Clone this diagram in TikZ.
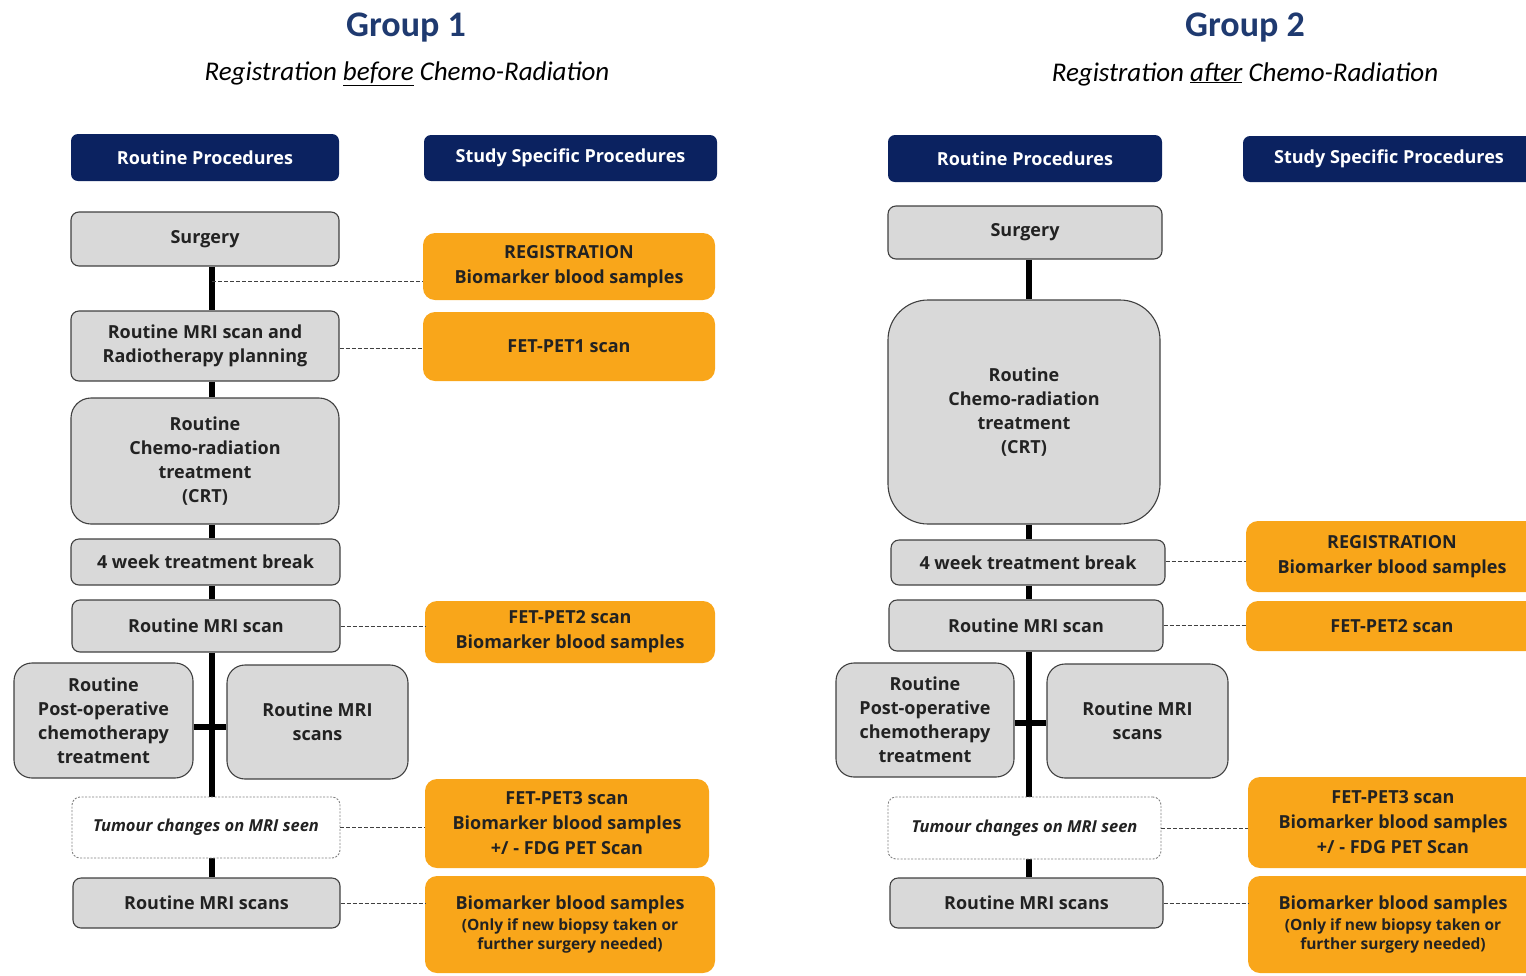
\documentclass[tikz,border=0pt]{standalone}
\usepackage{fontspec}
\setmainfont{Open Sans}
\newfontfamily\calib{Carlito}
\usetikzlibrary{backgrounds}
\definecolor{navy}{HTML}{0B2260}
\definecolor{titleblue}{HTML}{1F3A70}
\definecolor{boxgrey}{HTML}{D9D9D9}
\definecolor{edgegrey}{HTML}{404040}
\definecolor{orng}{HTML}{F9A61A}
\definecolor{txt}{HTML}{222222}
\newcommand\notefont{\bfseries\fontsize{15.5}{19}\selectfont}
\begin{document}
\begin{tikzpicture}[x=1pt,y=-1pt,
  hdr/.style={fill=navy, rounded corners=7pt, text=white, font=\bfseries\fontsize{18}{20}\selectfont, inner sep=0pt},
  gbox/.style={fill=boxgrey, draw=edgegrey, line width=1.1pt, rounded corners=8pt, align=center, text=txt, font=\bfseries\fontsize{18}{24}\selectfont, inner sep=0pt},
  obox/.style={fill=orng, rounded corners=12pt, align=center, text=txt, font=\bfseries\fontsize{18}{25}\selectfont, inner sep=0pt},
  tbox/.style={fill=white, draw=gray, dash pattern=on 2pt off 1.5pt, line width=0.9pt, rounded corners=8pt, align=center, text=txt, font=\bfseries\itshape\fontsize{16.5}{18}\selectfont, inner sep=0pt},
  spine/.style={line width=6pt, black},
  link/.style={draw=edgegrey, dash pattern=on 4pt off 2pt, line width=0.9pt},
  title/.style={text=titleblue, font=\calib\bfseries\fontsize{36}{40}\selectfont},
  sub/.style={text=black, font=\calib\itshape\fontsize{27}{30}\selectfont}
]
\useasboundingbox (0,0) rectangle (1526,975);
\clip (0,0) rectangle (1526,975);

% ---------------- Group 1 ----------------
\node[title] (t1) at (406,28) {Group 1};
\node[sub] (st1) at (407,74) {Registration \underline{before} Chemo-Radiation};
\node[hdr, minimum width=268pt, minimum height=47pt] (h1a) at (205,157.5) {Routine Procedures};
\node[hdr, minimum width=293pt, minimum height=46pt] (h1b) at (570.5,158) {Study Specific Procedures};

\node[gbox, minimum width=268pt, minimum height=54pt] (a1) at (205,239) {Surgery};
\node[obox, minimum width=292pt, minimum height=67pt] (r1) at (569,266.5) {REGISTRATION\\Biomarker blood samples};
\node[gbox, minimum width=268pt, minimum height=70pt] (a2) at (205,346) {Routine MRI scan and\\Radiotherapy planning};
\node[obox, minimum width=292pt, minimum height=69pt] (p1) at (569,346.5) {FET-PET1 scan};
\node[gbox, rounded corners=20pt, minimum width=268pt, minimum height=126pt] (a3) at (205,461) {Routine\\Chemo-radiation\\treatment\\(CRT)};
\node[gbox, minimum width=269pt, minimum height=46pt] (a4) at (205.5,562) {4 week treatment break};
\node[gbox, minimum width=268pt, minimum height=52pt] (a5) at (206,626) {Routine MRI scan};
\node[obox, minimum width=290pt, minimum height=62pt] (p2) at (570,632) {FET-PET2 scan\\Biomarker blood samples};
\node[gbox, rounded corners=18pt, minimum width=179pt, minimum height=115pt] (b1) at (103.5,720.5) {Routine\\Post-operative\\chemotherapy\\treatment};
\node[gbox, rounded corners=18pt, minimum width=181pt, minimum height=114pt] (b2) at (317.5,722) {Routine MRI\\scans};
\node[tbox, minimum width=268pt, minimum height=61pt] (a6) at (206,827.5) {Tumour changes on MRI seen};
\node[obox, minimum width=284pt, minimum height=89pt] (p3) at (567,823.5) {FET-PET3 scan\\Biomarker blood samples\\+/ - FDG PET Scan};
\node[gbox, minimum width=267pt, minimum height=50pt] (a7) at (206.5,903) {Routine MRI scans};
\node[obox, minimum width=290pt, minimum height=97pt] (p4) at (570,924.5) {Biomarker blood samples\\[-4pt]{\notefont(Only if new biopsy taken or}\\[-6pt]{\notefont further surgery needed)}};

\coordinate (sp1) at (212,0);
\coordinate (j1) at (212,281);
\coordinate (c1) at (212,727);
\begin{scope}[on background layer]
  \draw[spine] (a1.south -| sp1) -- (a2.north -| sp1);
  \draw[spine] (a2.south -| sp1) -- (a3.north -| sp1);
  \draw[spine] (a3.south -| sp1) -- (a4.north -| sp1);
  \draw[spine] (a4.south -| sp1) -- (a5.north -| sp1);
  \draw[spine] (a5.south -| sp1) -- (a6.north -| sp1);
  \draw[spine] (a6.south -| sp1) -- (a7.north -| sp1);
  \draw[spine] (c1 -| b1.east) -- (c1 -| b2.west);
\end{scope}
\draw[link] (j1) -- (j1 -| r1.west);
\draw[link] (a2.east |- 0,348) -- (p1.west |- 0,348);
\draw[link] (a5.east) -- (a5.east -| p2.west);
\draw[link] (a6.east) -- (a6.east -| p3.west);
\draw[link] (a7.east) -- (a7.east -| p4.west);

% ---------------- Group 2 ----------------
\node[title] (t2) at (1245,28) {Group 2};
\node[sub] (st2) at (1245,74) {Registration \underline{after} Chemo-Radiation};
\node[hdr, minimum width=274pt, minimum height=47pt] (h2a) at (1025,158.5) {Routine Procedures};
\node[hdr, minimum width=292pt, minimum height=46pt] (h2b) at (1389,159) {Study Specific Procedures};

\node[gbox, minimum width=274pt, minimum height=53pt] (d1) at (1025,232.5) {Surgery};
\node[gbox, rounded corners=40pt, minimum width=272pt, minimum height=224pt] (d3) at (1024,412) {Routine\\Chemo-radiation\\treatment\\(CRT)};
\node[gbox, minimum width=274pt, minimum height=45pt] (d4) at (1028,562.5) {4 week treatment break};
\node[obox, minimum width=292pt, minimum height=71pt] (r2) at (1392,556.5) {REGISTRATION\\Biomarker blood samples};
\node[gbox, minimum width=274pt, minimum height=51pt] (d5) at (1026,625.5) {Routine MRI scan};
\node[obox, minimum width=292pt, minimum height=50pt] (q2) at (1392,626) {FET-PET2 scan};
\node[gbox, rounded corners=18pt, minimum width=178pt, minimum height=114pt] (e1) at (925,720) {Routine\\Post-operative\\chemotherapy\\treatment};
\node[gbox, rounded corners=18pt, minimum width=181pt, minimum height=114pt] (e2) at (1137.5,721) {Routine MRI\\scans};
\node[tbox, minimum width=273pt, minimum height=62pt] (d6) at (1024.5,828) {Tumour changes on MRI seen};
\node[obox, minimum width=290pt, minimum height=91pt] (q3) at (1393,822.5) {FET-PET3 scan\\Biomarker blood samples\\+/ - FDG PET Scan};
\node[gbox, minimum width=273pt, minimum height=50pt] (d7) at (1026.5,903) {Routine MRI scans};
\node[obox, minimum width=290pt, minimum height=97pt] (q4) at (1393,924.5) {Biomarker blood samples\\[-4pt]{\notefont(Only if new biopsy taken or}\\[-6pt]{\notefont further surgery needed)}};

\coordinate (sp2) at (1029,0);
\coordinate (c2) at (1029,723);
\begin{scope}[on background layer]
  \draw[spine] (d1.south -| sp2) -- (d3.north -| sp2);
  \draw[spine] (d3.south -| sp2) -- (d4.north -| sp2);
  \draw[spine] (d4.south -| sp2) -- (d5.north -| sp2);
  \draw[spine] (d5.south -| sp2) -- (d6.north -| sp2);
  \draw[spine] (d6.south -| sp2) -- (d7.north -| sp2);
  \draw[spine] (c2 -| e1.east) -- (c2 -| e2.west);
\end{scope}
\draw[link] (d4.east |- 0,561) -- (r2.west |- 0,561);
\draw[link] (d5.east) -- (d5.east -| q2.west);
\draw[link] (d6.east) -- (d6.east -| q3.west);
\draw[link] (d7.east) -- (d7.east -| q4.west);
\end{tikzpicture}
\end{document}
